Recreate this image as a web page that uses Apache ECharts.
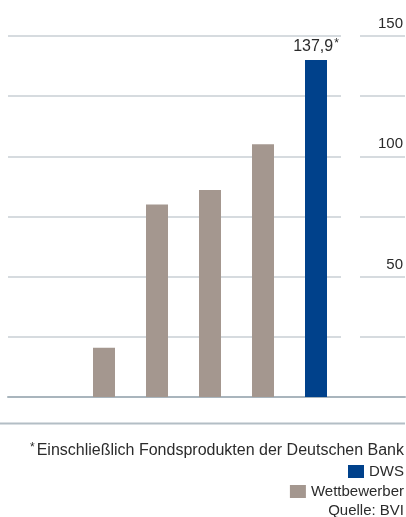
<!DOCTYPE html>
<html>
<head>
<meta charset="utf-8">
<script src="https://cdn.jsdelivr.net/npm/echarts@6/dist/echarts.min.js"></script>
<style>
  html, body { margin: 0; padding: 0; background: #fff; }
  #chart { width: 406px; height: 517px; }
</style>
</head>
<body>
<div id="chart"></div>
<script>
var categories = ['', 'A', 'B', 'C', 'D', 'DWS'];
var competitors = [null, 20.5, 80, 86, 105, null];
var dws = [null, null, null, null, null, 140];
var dwsLabel = '137,9';
var yTicks = [50, 100, 150];

var FONT = 'Liberation Sans';
var TEXT = '#2b2b2b';
var GRID = '#c9cfd4';

var chart = echarts.init(document.getElementById('chart'));

var option = {
  animation: false,
  textStyle: { fontFamily: FONT, color: TEXT },
  grid: [
    { left: 8, right: 65, top: 36, bottom: 120 },
    { left: 24.5, right: 63.5, top: 36, bottom: 120 },
    { left: 360, right: 0, top: 36, bottom: 120 },
    { left: 8, right: 1, top: 36, bottom: 120 }
  ],
  xAxis: [
    { gridIndex: 0, type: 'category', data: categories, show: false },
    { gridIndex: 1, type: 'category', data: categories, show: false },
    { gridIndex: 2, type: 'category', data: categories, show: false },
    {
      gridIndex: 3, type: 'category', data: categories,
      axisLine: { show: true, lineStyle: { color: '#a9b5bd', width: 2 } },
      axisTick: { show: false }, axisLabel: { show: false }
    }
  ],
  yAxis: [
    {
      gridIndex: 0, type: 'value', min: 0, max: 150, interval: 25,
      axisLine: { show: false }, axisTick: { show: false }, axisLabel: { show: false },
      splitLine: { lineStyle: { color: GRID, width: 1.5 } }
    },
    {
      gridIndex: 1, type: 'value', min: 0, max: 150, interval: 25,
      axisLine: { show: false }, axisTick: { show: false }, axisLabel: { show: false },
      splitLine: { show: false }
    },
    {
      gridIndex: 2, type: 'value', min: 0, max: 150, interval: 25, position: 'right',
      axisLine: { show: false }, axisTick: { show: false },
      splitLine: { lineStyle: { color: GRID, width: 1.5 } },
      axisLabel: {
        inside: true, margin: 2, fontSize: 15, color: TEXT, fontFamily: FONT,
        verticalAlign: 'bottom', padding: [0, 0, 4.5, 0],
        formatter: function (v) { return yTicks.indexOf(v) >= 0 ? String(v) : ''; }
      }
    },
    {
      gridIndex: 3, type: 'value', min: 0, max: 150, show: false
    }
  ],
  legend: [
    {
      data: ['DWS'], right: 2, top: 464, padding: 0, itemWidth: 16, itemHeight: 13,
      icon: 'rect', selectedMode: false,
      textStyle: { fontSize: 15, color: TEXT, fontFamily: FONT }
    },
    {
      data: ['Wettbewerber'], right: 2, top: 484, padding: 0, itemWidth: 16, itemHeight: 13,
      icon: 'rect', selectedMode: false,
      textStyle: { fontSize: 15, color: TEXT, fontFamily: FONT }
    }
  ],
  series: [
    {
      name: 'Wettbewerber', type: 'bar', xAxisIndex: 1, yAxisIndex: 1,
      data: competitors, barWidth: 22, barGap: '-100%',
      itemStyle: { color: '#a4978f' }
    },
    {
      name: 'DWS', type: 'bar', xAxisIndex: 1, yAxisIndex: 1,
      data: dws, barWidth: 22, barGap: '-100%',
      itemStyle: { color: '#00418b' },
      label: {
        show: true, position: 'top', distance: 4,
        formatter: function () { return dwsLabel + '{sup|*}'; },
        fontSize: 16, color: TEXT, fontFamily: FONT,
        rich: { sup: { fontSize: 12, verticalAlign: 'top', padding: [0, 0, 6, 1], color: TEXT, fontFamily: FONT } }
      }
    }
  ],
  graphic: [
    {
      type: 'line', shape: { x1: 0, y1: 423.5, x2: 405, y2: 423.5 },
      style: { stroke: '#b3bec5', lineWidth: 2 }
    },
    {
      type: 'text', right: 2, top: 442,
      style: {
        text: '{s|*}Einschließlich Fondsprodukten der Deutschen Bank',
        font: '16px "Liberation Sans"', fill: TEXT, align: 'right',
        rich: { s: { fontSize: 12, verticalAlign: 'top', padding: [0, 2, 5, 0], fill: TEXT } }
      }
    },
    {
      type: 'text', right: 2, top: 503,
      style: { text: 'Quelle: BVI', font: '15px "Liberation Sans"', fill: TEXT }
    }
  ]
};

chart.setOption(option);
</script>
</body>
</html>
